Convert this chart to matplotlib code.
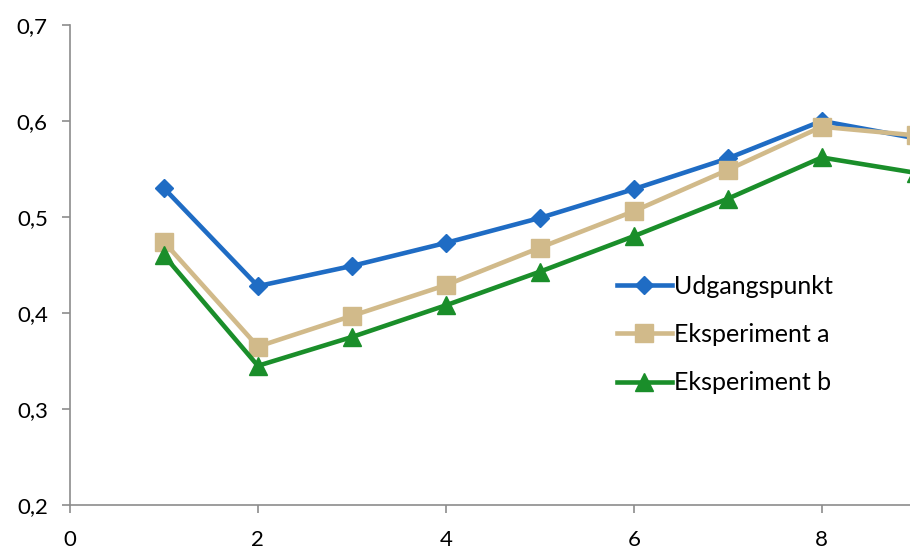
import matplotlib.pyplot as plt
from matplotlib.ticker import FuncFormatter

plt.rcParams['font.family'] = ['Lato', 'DejaVu Sans']

# data series
x = [1, 2, 3, 4, 5, 6, 7, 8, 9]
udgangspunkt = [0.530, 0.428, 0.449, 0.473, 0.499, 0.529, 0.561, 0.600, 0.582]
eksperiment_a = [0.474, 0.365, 0.397, 0.429, 0.468, 0.506, 0.549, 0.594, 0.585]
eksperiment_b = [0.460, 0.345, 0.375, 0.408, 0.443, 0.480, 0.519, 0.562, 0.546]

fig = plt.figure(figsize=(9.1, 5.49), dpi=100)
ax = fig.add_axes([0.0769, 0.0801, 0.9231, 0.8744])

ax.plot(x, udgangspunkt, color='#1F6CC4', lw=3.3, marker='D', ms=9, label='Udgangspunkt')
ax.plot(x, eksperiment_a, color='#D1BA8A', lw=3.3, marker='s', ms=13, label='Eksperiment a')
ax.plot(x, eksperiment_b, color='#1A8E2A', lw=3.3, marker='^', ms=13, label='Eksperiment b')

ax.set_xlim(0, 8.94)
ax.set_ylim(0.2, 0.7)
ax.set_xticks([0, 2, 4, 6, 8])
ax.set_yticks([0.2, 0.3, 0.4, 0.5, 0.6, 0.7])
ax.yaxis.set_major_formatter(FuncFormatter(lambda v, p: f'{v:.1f}'.replace('.', ',')))

for side in ['top', 'right']:
    ax.spines[side].set_visible(False)
for side in ['left', 'bottom']:
    ax.spines[side].set_color('#8C8C8C')
    ax.spines[side].set_linewidth(1.2)
ax.tick_params(direction='out', length=6, width=1.2, color='#8C8C8C', labelsize=16)
ax.tick_params(axis='y', pad=10)
ax.tick_params(axis='x', pad=12)

ax.legend(loc='upper left', bbox_to_anchor=(0.678, 0.50), bbox_transform=fig.transFigure,
          frameon=False, fontsize=18, handlelength=2.2, handletextpad=0.1,
          labelspacing=1.02, borderaxespad=0, borderpad=0)

fig.savefig('out.png', dpi=100)
